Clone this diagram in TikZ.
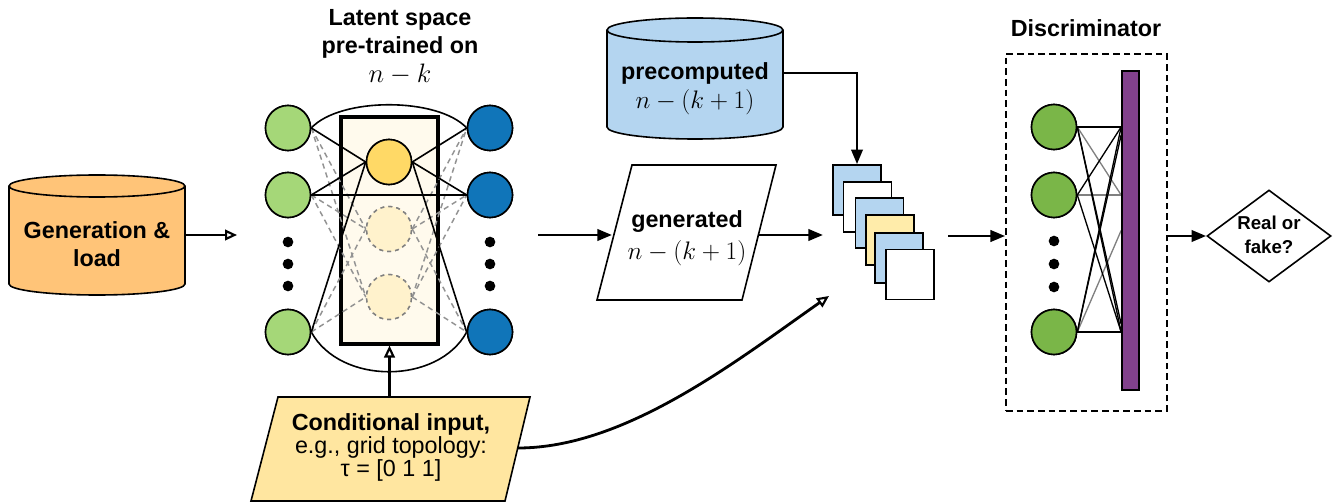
\RequirePackage{fix-cm}
\documentclass[tikz,border=0pt]{standalone}
\usepackage{fontspec}
\newfontfamily\arial{Liberation Sans}
\usetikzlibrary{arrows.meta,shapes.geometric,calc}
\definecolor{orangec}{RGB}{255,196,120}
\definecolor{lblue}{RGB}{180,213,240}
\definecolor{lgreen}{RGB}{165,215,120}
\definecolor{dblue}{RGB}{16,117,185}
\definecolor{ynode}{RGB}{255,217,102}
\definecolor{hnode}{RGB}{255,242,204}
\definecolor{cream}{RGB}{255,250,237}
\definecolor{condc}{RGB}{255,230,160}
\definecolor{ysq}{RGB}{255,236,170}
\definecolor{dgreen}{RGB}{122,182,72}
\definecolor{purp}{RGB}{130,65,140}
\newcommand\mycyl[6]{%
  \pgfmathsetmacro\myrx{(#2-#1)/2}%
  \draw[line width=1.2pt, fill=#6] (#1,#3) -- (#1,#4)
    arc[start angle=180,end angle=0,x radius=\myrx,y radius=#5] -- (#2,#3)
    arc[start angle=0,end angle=-180,x radius=\myrx,y radius=#5] -- cycle;
  \draw[line width=1.2pt] (#1,#3) arc[start angle=180,end angle=0,x radius=\myrx,y radius=#5];
}
\newcommand\mthsz{\fontsize{19}{22}\selectfont}
\begin{document}
\begin{tikzpicture}[x=0.75pt,y=-0.75pt,
  lbl/.style={font=\arial\bfseries\fontsize{17.5}{21}\selectfont, align=center, inner sep=0pt},
  nn/.style={circle, draw, line width=1.2pt, minimum size=33.75pt, inner sep=0pt},
  hn/.style={circle, draw=gray, dashed, line width=1.1pt, minimum size=33.75pt, inner sep=0pt, fill=hnode},
  dotn/.style={circle, fill=black, minimum size=8pt, inner sep=0pt},
  sq/.style={draw, line width=1.2pt, minimum width=36pt, minimum height=37.5pt, inner sep=0pt},
  thin/.style={line width=1.2pt},
  dsh/.style={line width=1.1pt, gray!85, dash pattern=on 4pt off 3pt},
  arr/.style={line width=2.1pt, -{Triangle[length=11pt,width=8.5pt]}},
  oarr/.style={line width=2.1pt, -{Triangle[open,length=9pt,width=8pt,line width=1.6pt]}}]
\useasboundingbox (0,0) rectangle (1337,502);

% ---------- Generation & load cylinder
\mycyl{9}{185}{186}{284}{11}{orangec}
\node[lbl] (gentxt) at (97,244) {Generation \&\\load};
\coordinate (genE) at (185,235);
\coordinate (latIn) at (237,235);
\draw[oarr] (genE) -- (latIn);

% ---------- Latent space
\node[lbl] (lattitle) at (400,47) {Latent space\\pre-trained on\\[1pt]{\fontsize{20}{22}\selectfont$n-k$}};
\node[draw, line width=2.3pt, fill=cream, minimum width=72.75pt, minimum height=170.25pt, inner sep=0pt] (lat) at (389.5,230.5) {};

\node[nn, fill=lgreen] (g1) at (288,128) {};
\node[nn, fill=lgreen] (g2) at (288,195) {};
\node[nn, fill=lgreen] (g4) at (288,332) {};
\node[dotn] (gd1) at (288,242) {};
\node[dotn] (gd2) at (288,264) {};
\node[dotn] (gd3) at (288,286) {};
\node[nn, fill=dblue] (b1) at (490,128) {};
\node[nn, fill=dblue] (b2) at (490,195) {};
\node[nn, fill=dblue] (b4) at (490,332) {};
\node[dotn] (bd1) at (490,242) {};
\node[dotn] (bd2) at (490,264) {};
\node[dotn] (bd3) at (490,286) {};
\node[nn, fill=ynode] (yy) at (389,162) {};
\node[hn] (h1) at (389,229) {};
\node[hn] (h2) at (389,297) {};

\draw[thin] (g1.east) .. controls (340,97) and (438,97) .. (b1.west);
\draw[thin] (g4.east) .. controls (340,385) and (438,385) .. (b4.west);
\foreach \g in {g1,g2,g4}{
  \draw[dsh] (\g.east) -- (h1.west);
  \draw[dsh] (\g.east) -- (h2.west);
}
\foreach \b in {b1,b2,b4}{
  \draw[dsh] (h1.east) -- (\b.west);
  \draw[dsh] (h2.east) -- (\b.west);
}
\foreach \g in {g1,g2,g4}{ \draw[thin] (\g.east) -- (yy.west); }
\foreach \b in {b1,b2,b4}{ \draw[thin] (yy.east) -- (\b.west); }
\draw[thin] (g2.east) -- (b2.west);
% redraw nodes on top
\node[nn, fill=lgreen] at (g1) {};
\node[nn, fill=lgreen] at (g2) {};
\node[nn, fill=lgreen] at (g4) {};
\node[nn, fill=dblue] at (b1) {};
\node[nn, fill=dblue] at (b2) {};
\node[nn, fill=dblue] at (b4) {};
\node[nn, fill=ynode] at (yy) {};
\node[hn] at (h1) {};
\node[hn] at (h2) {};

% ---------- Conditional input
\draw[line width=1.2pt, fill=condc] (278,397) -- (530,397) -- (505,501) -- (251,501) -- cycle;
\node[inner sep=0pt, minimum width=189pt, minimum height=78pt] (cond) at (389.5,449) {};
\node[align=center, inner sep=0pt] (condtxt) at (391,447.5)
  {{\arial\bfseries\fontsize{17.5}{21}\selectfont Conditional input,}\\[0pt]
   {\arial\fontsize{17.5}{21}\selectfont e.g., grid topology:}\\[0pt]
   {\arial\fontsize{17.5}{21}\selectfont τ = [0 1 1]}};
\draw[oarr] (cond.north) -- (cond.north |- lat.south);
\coordinate (condE) at (518,448);
\coordinate (stackIn) at (829,296);
\draw[oarr] (condE) .. controls (625,448) and (735,362) .. (stackIn);

% ---------- generated
\coordinate (netOut) at (538,235);
\draw[line width=1.2pt, fill=white] (632,165) -- (776,165) -- (742,300) -- (597,300) -- cycle;
\node[lbl] (gentd) at (687,238) {generated\\[3pt]{\mdseries\mthsz$n-(k+1)$}};
\coordinate (genL) at (612,235);
\coordinate (genR) at (758,235);
\coordinate (stackL) at (823,235);
\draw[arr] (netOut) -- (genL);
\draw[arr] (genR) -- (stackL);

% ---------- precomputed
\mycyl{607}{783}{30}{127}{12}{lblue}
\node[lbl] (pretxt) at (695,89) {precomputed\\[1pt]{\mdseries\mthsz$n-(k+1)$}};
\coordinate (preE) at (783,73);

% ---------- stack
\node[sq, fill=lblue] (s1) at (857,190) {};
\node[sq, fill=white] (s2) at (867.5,207) {};
\node[sq, fill=lblue] (s3) at (879.5,223) {};
\node[sq, fill=ysq] (s4) at (890,240) {};
\node[sq, fill=lblue] (s5) at (899,258) {};
\node[sq, fill=white] (s6) at (910,274.5) {};
\draw[arr] (preE) -| (s1.north);
\coordinate (stackOut) at (948,236);

% ---------- Discriminator
\node[lbl] (disctitle) at (1086,28) {Discriminator};
\node[draw, line width=1.3pt, dash pattern=on 5pt off 3pt, minimum width=120.75pt, minimum height=267.75pt, inner sep=0pt] (disc) at (1086.5,232.5) {};
\node[draw, line width=1.3pt, fill=purp, minimum width=12.75pt, minimum height=239.25pt, inner sep=0pt] (bar) at (1130.5,230.5) {};
\node[nn, fill=dgreen] (d1) at (1054,127) {};
\node[nn, fill=dgreen] (d2) at (1054,195) {};
\node[nn, fill=dgreen] (d4) at (1054,332) {};
\node[dotn] (dd1) at (1054,241) {};
\node[dotn] (dd2) at (1054,264) {};
\node[dotn] (dd3) at (1054,287) {};
\coordinate (t1) at (bar.west |- d1);
\coordinate (t2) at (bar.west |- d2);
\coordinate (t3) at (bar.west);
\coordinate (t4) at (bar.west |- d4);
\begin{scope}[line width=1pt]
\draw[gray] (d1.east) -- (t2);
\draw[gray] (d2.east) -- (t2);
\draw[gray] (d4.east) -- (t3);
\draw (d1.east) -- (t1);
\draw (d1.east) -- (t4);
\draw (d2.east) -- (t1);
\draw (d2.east) -- (t4);
\draw (d4.east) -- (t1);
\draw (d4.east) -- (t4);
\draw (d1.east) -- ($(t4)+(0,-8)$);
\draw (d4.east) -- ($(t1)+(0,8)$);
\end{scope}
\node[draw, line width=1.3pt, fill=purp, minimum width=12.75pt, minimum height=239.25pt, inner sep=0pt] at (bar) {};
\node[nn, fill=dgreen] at (d1) {};
\node[nn, fill=dgreen] at (d2) {};
\node[nn, fill=dgreen] at (d4) {};
\draw[arr] (stackOut) -- (stackOut -| disc.west);

% ---------- Real or fake
\node[diamond, draw, line width=1.2pt, aspect=1.35, minimum width=93pt, minimum height=69pt, inner sep=0pt] (rf) at (1269,236) {};
\node[font=\arial\bfseries\fontsize{14}{18}\selectfont, align=center, inner sep=0pt] (rftxt) at (1269,235) {Real or\\fake?};
\draw[arr] (disc.east |- rf) -- (rf.west);
\end{tikzpicture}
\end{document}
